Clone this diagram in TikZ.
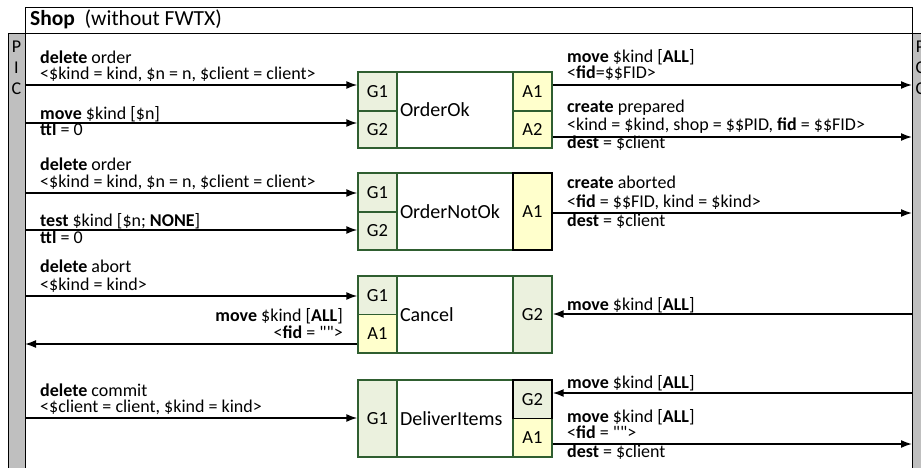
\documentclass[tikz,border=0pt]{standalone}
\usepackage{fontspec}
\setmainfont{Carlito}[Ligatures = TeXOff]
\usetikzlibrary{arrows.meta}
\definecolor{boxgreen}{RGB}{47,94,48}
\definecolor{gfill}{RGB}{235,241,222}
\definecolor{afill}{RGB}{255,255,204}
\definecolor{bargray}{RGB}{191,191,191}

\begin{document}
\begin{tikzpicture}[x = 1pt, y = -1pt]
\tikzstyle{BarStyle}=[draw, fill = bargray, line width = 1.2pt,
                      minimum width = 17pt, minimum height = 445pt,
                      inner sep = 0pt, anchor = north west]
\tikzstyle{CellStyle}=[draw = boxgreen, line width = 1.4pt, minimum width = 39pt,
                       inner sep = 0pt, font = \fontsize{18.5}{21}\selectfont]
\tikzstyle{GStyle}=[CellStyle, fill = gfill]
\tikzstyle{AStyle}=[CellStyle, fill = afill]
\tikzstyle{BodyStyle}=[draw = boxgreen, fill = white, line width = 1.4pt,
                       text width = 110pt, inner xsep = 3pt, inner ysep = 0pt,
                       align = left, font = \fontsize{20}{23}\selectfont]
\tikzstyle{LabelStyle}=[anchor = base west, inner sep = 0pt,
                        font = \fontsize{18}{21}\selectfont]
\tikzstyle{MsgStyle}=[line width = 1.6pt, -{Latex[length = 11pt, width = 8pt]}]
\useasboundingbox (0,0) rectangle (921,468);
\clip (0,0) rectangle (921,468);

\node[draw, line width = 1.2pt, anchor = north west, minimum width = 887pt,
      minimum height = 26pt, inner sep = 0pt] (shop) at (25,7) {};
\node[LabelStyle, font = \fontsize{21.5}{24}\selectfont] (shop-title) at (30,26)
  {\textbf{Shop}\ \ (without FWTX)};
\node[BarStyle] (pic) at (8,33) {};
\node[BarStyle] (pcc) at (912,33) {};
\node[anchor = north, align = center, inner sep = 0pt,
      font = \fontsize{18}{21}\selectfont] (pic-text) at (16.5,41) {P\\I\\C};
\node[anchor = north, align = center, inner sep = 0pt,
      font = \fontsize{18}{21}\selectfont] (pcc-text) at (920.5,41) {P\\C\\C};

\node[BodyStyle, minimum height = 76pt] (ok) at (455,110) {OrderOk};
\node[GStyle, minimum height = 39pt] (ok-g1) at (377.5,91.5) {G1};
\node[GStyle, minimum height = 37pt] (ok-g2) at (377.5,129.5) {G2};
\node[AStyle, minimum height = 39pt] (ok-a1) at (532.5,91.5) {A1};
\node[AStyle, minimum height = 37pt] (ok-a2) at (532.5,129.5) {A2};

\node[BodyStyle, minimum height = 77pt] (nok) at (455,211.5) {OrderNotOk};
\node[GStyle, minimum height = 39pt] (nok-g1) at (377.5,192.5) {G1};
\node[GStyle, minimum height = 38pt] (nok-g2) at (377.5,231) {G2};
\node[AStyle, draw = black, minimum height = 77pt] (nok-a1) at (532.5,211.5) {A1};

\node[BodyStyle, minimum height = 77pt] (can) at (455,314.5) {Cancel};
\node[GStyle, minimum height = 38.5pt] (can-g1) at (377.5,295.25) {G1};
\node[AStyle, minimum height = 38.5pt] (can-a1) at (377.5,333.75) {A1};
\node[GStyle, minimum height = 77pt] (can-g2) at (532.5,314.5) {G2};

\node[BodyStyle, minimum height = 77pt] (del) at (455,418.5) {DeliverItems};
\node[GStyle, minimum height = 77pt] (del-g1) at (377.5,418.5) {G1};
\node[AStyle, minimum height = 38.5pt] (del-a1) at (532.5,437.75) {A1};
\node[GStyle, draw = black, minimum height = 38.5pt] (del-g2) at (532.5,399.25) {G2};

\coordinate (ok-i1) at (25,85);
\coordinate (ok-i2) at (25,123);
\coordinate (ok-o1) at (912,85);
\coordinate (ok-o2) at (912,137);
\coordinate (nok-i1) at (25,193);
\coordinate (nok-i2) at (25,230);
\coordinate (nok-o1) at (912,213);
\coordinate (can-i1) at (25,296);
\coordinate (can-o1) at (25,344);
\coordinate (can-i2) at (912,314);
\coordinate (del-i1) at (25,418);
\coordinate (del-i2) at (912,393);
\coordinate (del-o1) at (912,444);

\draw[MsgStyle] (ok-i1) -- (ok-i1 -| ok-g1.west);
\draw[MsgStyle] (ok-i2) -- (ok-i2 -| ok-g2.west);
\draw[MsgStyle] (ok-o1 -| ok-a1.east) -- (ok-o1);
\draw[MsgStyle] (ok-o2 -| ok-a2.east) -- (ok-o2);
\draw[MsgStyle] (nok-i1) -- (nok-i1 -| nok-g1.west);
\draw[MsgStyle] (nok-i2) -- (nok-i2 -| nok-g2.west);
\draw[MsgStyle] (nok-o1 -| nok-a1.east) -- (nok-o1);
\draw[MsgStyle] (can-i1) -- (can-i1 -| can-g1.west);
\draw[MsgStyle] (can-o1 -| can-a1.west) -- (can-o1);
\draw[MsgStyle] (can-i2) -- (can-i2 -| can-g2.east);
\draw[MsgStyle] (del-i1) -- (del-i1 -| del-g1.west);
\draw[MsgStyle] (del-i2) -- (del-i2 -| del-g2.east);
\draw[MsgStyle] (del-o1 -| del-a1.east) -- (del-o1);

\node[LabelStyle] (ok-t1) at (40,64) {\textbf{delete} order};
\node[LabelStyle] (ok-t2) at (40,80) {<\$kind = kind, \$n = n, \$client = client>};
\node[LabelStyle] (ok-t3) at (40,120) {\textbf{move} \$kind [\$n]};
\node[LabelStyle] (ok-t4) at (40,136) {\textbf{ttl} = 0};
\node[LabelStyle] (ok-t5) at (567,63) {\textbf{move} \$kind [\textbf{ALL}]};
\node[LabelStyle] (ok-t6) at (567,79) {<\textbf{fid}=\$\$FID>};
\node[LabelStyle] (ok-t7) at (567,113) {\textbf{create} prepared};
\node[LabelStyle] (ok-t8) at (567,131) {<kind = \$kind, shop = \$\$PID, \textbf{fid} = \$\$FID>};
\node[LabelStyle] (ok-t9) at (567,149) {\textbf{dest} = \$client};

\node[LabelStyle] (nok-t1) at (40,171) {\textbf{delete} order};
\node[LabelStyle] (nok-t2) at (40,187) {<\$kind = kind, \$n = n, \$client = client>};
\node[LabelStyle] (nok-t3) at (40,226) {\textbf{test} \$kind [\$n; \textbf{NONE}]};
\node[LabelStyle] (nok-t4) at (40,243) {\textbf{ttl} = 0};
\node[LabelStyle] (nok-t5) at (567,189) {\textbf{create} aborted};
\node[LabelStyle] (nok-t6) at (567,207) {<\textbf{fid} = \$\$FID, kind = \$kind>};
\node[LabelStyle] (nok-t7) at (567,226) {\textbf{dest} = \$client};

\node[LabelStyle] (can-t1) at (40,272) {\textbf{delete} abort};
\node[LabelStyle] (can-t2) at (40,290) {<\$kind = kind>};
\node[LabelStyle, anchor = base east] (can-t3) at (343,321) {\textbf{move} \$kind [\textbf{ALL}]};
\node[LabelStyle, anchor = base east] (can-t4) at (343,338) {<\textbf{fid} = "">};
\node[LabelStyle] (can-t5) at (567,310) {\textbf{move} \$kind [\textbf{ALL}]};

\node[LabelStyle] (del-t1) at (40,396) {\textbf{delete} commit};
\node[LabelStyle] (del-t2) at (40,412) {<\$client = client, \$kind = kind>};
\node[LabelStyle] (del-t3) at (567,388) {\textbf{move} \$kind [\textbf{ALL}]};
\node[LabelStyle] (del-t4) at (567,422) {\textbf{move} \$kind [\textbf{ALL}]};
\node[LabelStyle] (del-t5) at (567,438) {<\textbf{fid} = "">};
\node[LabelStyle] (del-t6) at (567,457) {\textbf{dest} = \$client};
\end{tikzpicture}
\end{document}
